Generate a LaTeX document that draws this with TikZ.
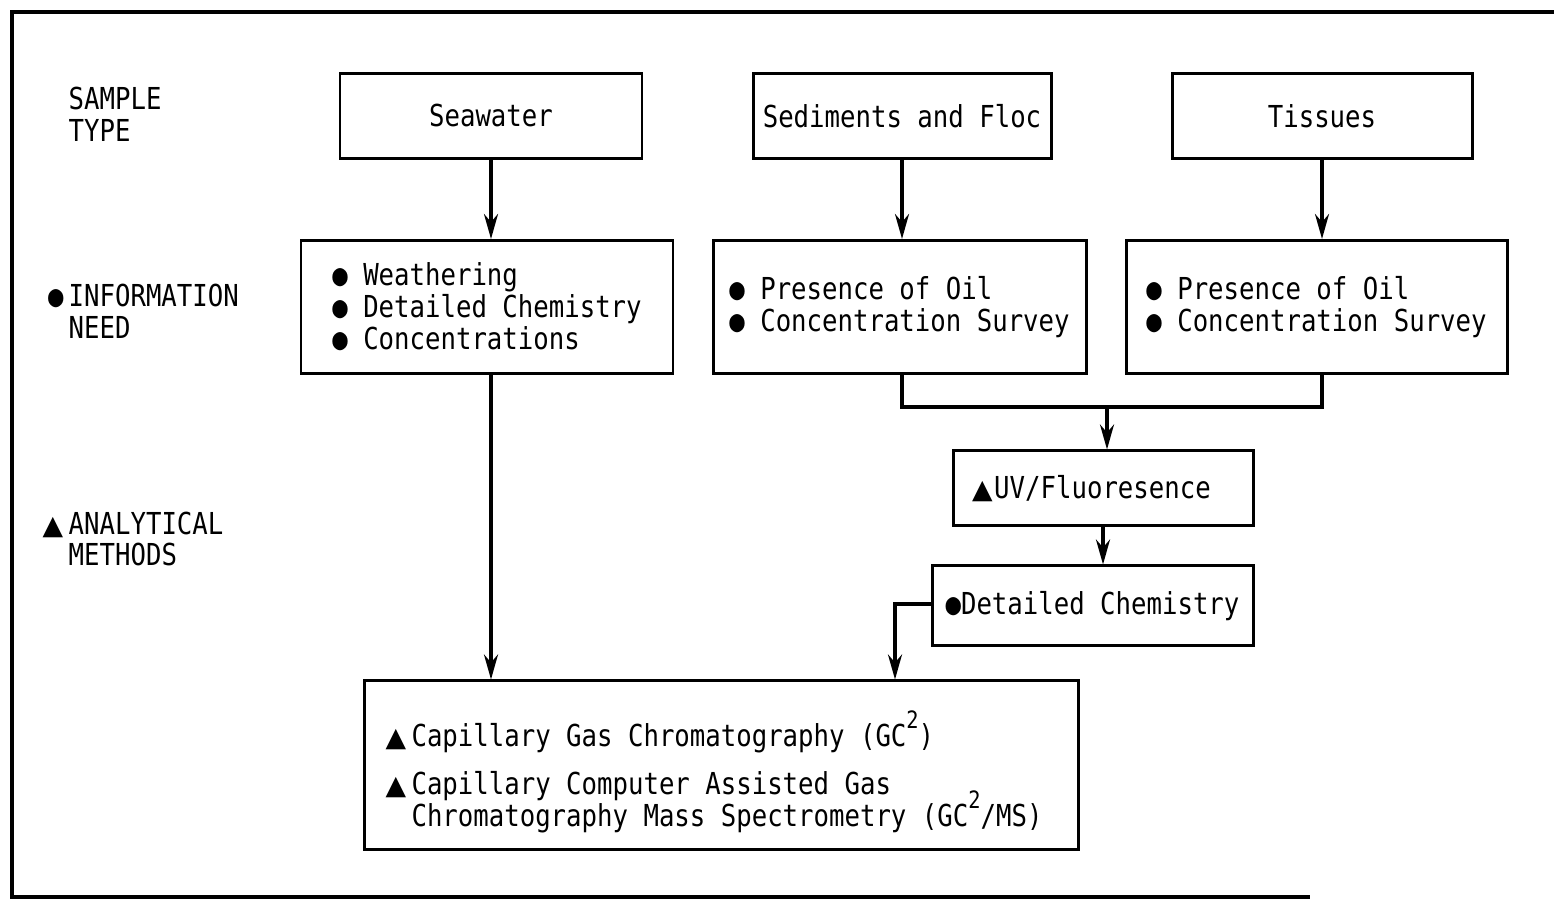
\documentclass[tikz,border=0pt]{standalone}
\usepackage{fontspec}
\usetikzlibrary{arrows.meta,positioning}
\newfontfamily\typefont{DejaVu Sans Mono}[FakeStretch=0.85]
\newfontfamily\symfont{DejaVu Sans}
\newcommand{\bul}{●}
\newcommand{\tri}{\makebox[1.8mm][l]{\fontsize{7.6pt}{7.6pt}\symfont ▲}}
\newcommand{\sqr}{\smash{\raisebox{1.1ex}{\fontsize{6.8pt}{6.8pt}\typefont 2}}}

\begin{document}
\begin{tikzpicture}[x=0.1mm, y=-0.1mm, font=\fontsize{8.6pt}{9.1pt}\typefont,
  box/.style = {draw, line width=0.85pt, inner sep=0pt, align=left},
  link/.style = {line width=1pt, -{Stealth[length=2.5mm, width=1.4mm]}}]
\useasboundingbox (0,0) rectangle (1554,901);
\draw[line width=1.2pt] (1554,12) -- (12,12) -- (12,897) -- (1310,897);

% row labels
\node[anchor=west, align=left, inner sep=0pt] (lsample) at (68,114) {SAMPLE\\TYPE};
\node[anchor=west, align=left, inner sep=0pt] (lneed) at (68,311) {\llap{\bul\hspace{0.5mm}}INFORMATION\\NEED};
\node[anchor=west, align=left, inner sep=0pt] (lmethod) at (68,539) {\llap{\tri\hspace{0.8mm}}ANALYTICAL\\METHODS};

% sample type
\node[box, minimum width=30.2mm, minimum height=8.5mm] (seawater) at (491,116) {Seawater};
\node[box, minimum width=29.8mm, minimum height=8.5mm] (sediments) at (902,116) {Sediments and Floc};
\node[box, minimum width=30mm, minimum height=8.5mm] (tissues) at (1322,116) {Tissues};

% information need
\node[box, minimum width=37.2mm, minimum height=13.3mm] (needsea) at (487,307)
  {\bul{} Weathering\\\bul{} Detailed Chemistry\\\bul{} Concentrations};
\node[box, minimum width=37.3mm, minimum height=13.3mm] (needsed) at (899.5,307)
  {\bul{} Presence of Oil\\\bul{} Concentration Survey};
\node[box, minimum width=38.1mm, minimum height=13.3mm] (needtis) at (1316.5,307)
  {\bul{} Presence of Oil\\\bul{} Concentration Survey};

% methods
\node[box, minimum width=30mm, minimum height=7.5mm] (uv) at (1103,488.5)
  {\tri\hspace{0.4mm}UV/Fluoresence\rule{2.3mm}{0pt}};
\node[box, minimum width=32.1mm, minimum height=8mm] (detail) at (1092.5,606) {\bul Detailed Chemistry};
\node[box, minimum width=71.4mm, minimum height=16.9mm] (gc) at (721,765.5)
  {\rule{0pt}{4.8mm}\tri\hspace{0.8mm}Capillary Gas Chromatography (GC\sqr)\\[1.6mm]
   \tri\hspace{0.8mm}Capillary Computer Assisted Gas\\
   \hspace*{2.6mm}Chromatography Mass Spectrometry (GC\sqr/MS)\rule{1.4mm}{0pt}};

\coordinate (join) at (1107,407);
\coordinate (turn) at (895,604);

\draw[link] (seawater.south) -- (seawater.south |- needsea.north);
\draw[link] (sediments.south) -- (sediments.south |- needsed.north);
\draw[link] (tissues.south) -- (tissues.south |- needtis.north);
\draw[line width=1pt] (sediments.south |- needsed.south) -- (sediments.south |- join)
  -- (tissues.south |- join) -- (tissues.south |- needtis.south);
\draw[link] (join) -- (join |- uv.north);
\draw[link] (uv.south) -- (uv.south |- detail.north);
\draw[link] (detail.west |- turn) -- (turn) -- (turn |- gc.north);
\draw[link] (seawater.south |- needsea.south) -- (seawater.south |- gc.north);
\end{tikzpicture}
\end{document}
